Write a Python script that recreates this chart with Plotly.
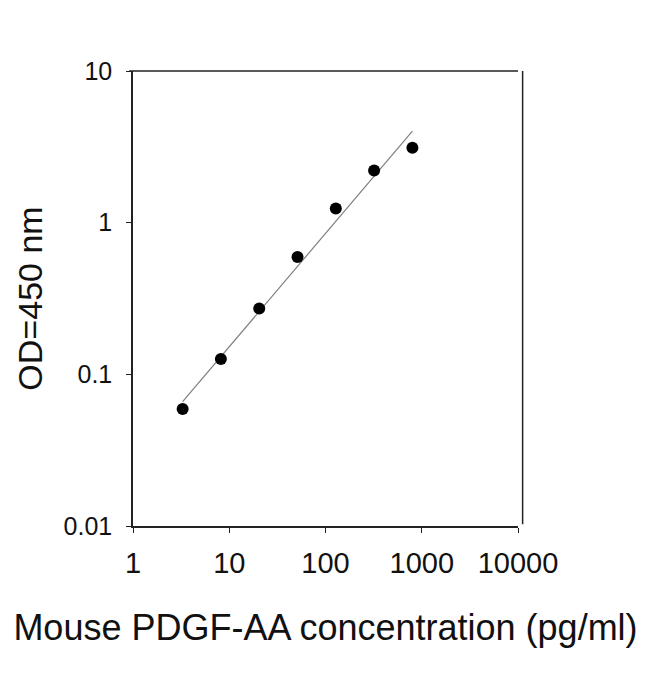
import plotly.graph_objects as go

# standard curve, 2.5-fold dilution series
conc = [3.28, 8.19, 20.48, 51.2, 128, 320, 800]  # pg/ml
od = [0.059, 0.126, 0.272, 0.593, 1.24, 2.21, 3.12]  # OD 450 nm

# fitted power line as drawn on the chart (end points)
fit_conc = [3.28, 800]
fit_od = [0.066, 4.02]

x_ticks = [1, 10, 100, 1000, 10000]
x_labels = ['1', '10', '100', '1000', '10000']
y_ticks = [0.01, 0.1, 1, 10]
y_labels = ['0.01', '0.1', '1', '10']

font = 'Liberation Sans, Arial, sans-serif'

fig = go.Figure()
fig.add_trace(go.Scatter(x=fit_conc, y=fit_od, mode='lines',
                         line=dict(color='#7f7f7f', width=1.2), showlegend=False))
fig.add_trace(go.Scatter(x=conc, y=od, mode='markers',
                         marker=dict(color='black', size=12), showlegend=False))

fig.update_xaxes(type='log', range=[0, 4], tickvals=x_ticks, ticktext=x_labels,
                 showgrid=False, zeroline=False, showline=True, linecolor='#222', linewidth=1.5,
                 mirror=False, ticks='outside', ticklen=5, tickcolor='#222', ticklabelstandoff=5,
                 tickfont=dict(family=font, size=29, color='#111'),
                 title=dict(text='Mouse PDGF-AA concentration (pg/ml)',
                            font=dict(family=font, size=36, color='#111'), standoff=37))
fig.update_yaxes(type='log', range=[-2, 1], tickvals=y_ticks, ticktext=y_labels,
                 showgrid=False, zeroline=False, showline=True, linecolor='#222', linewidth=1.5,
                 mirror=False, ticks='outside', ticklen=5, tickcolor='#222', ticklabelstandoff=9,
                 tickfont=dict(family=font, size=25, color='#111'),
                 title=dict(text='OD=450 nm', font=dict(family=font, size=34, color='#111'),
                            standoff=11))

# top border and slightly offset right border of the plot area
fig.add_shape(type='line', xref='paper', yref='paper', x0=-0.01, x1=1, y0=1, y1=1,
              line=dict(color='#222', width=1.5))
fig.add_shape(type='line', xref='paper', yref='paper', x0=1.012, x1=1.012, y0=0.004, y1=1,
              line=dict(color='#222', width=1.5))

fig.update_layout(width=650, height=674, plot_bgcolor='white', paper_bgcolor='white',
                  margin=dict(l=125, r=140, t=63, b=156))
fig.write_html('out.html')
